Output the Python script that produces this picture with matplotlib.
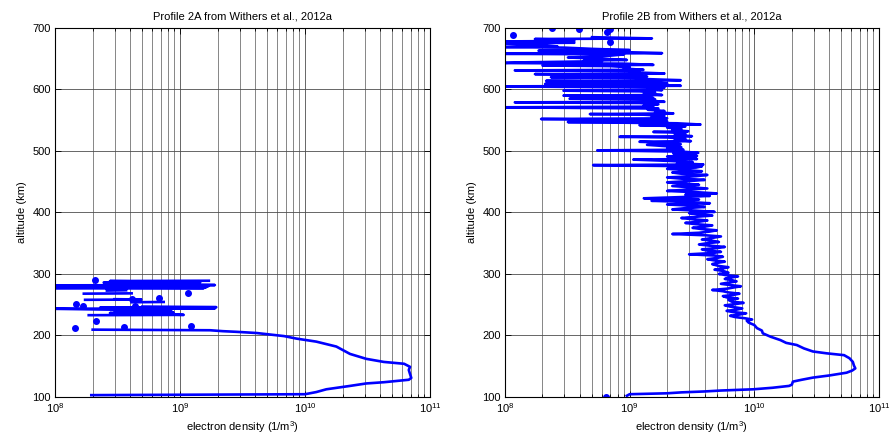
import numpy as np
import matplotlib
matplotlib.use("Agg")
import matplotlib.pyplot as plt
from matplotlib.ticker import LogLocator

# electron density values in units of 1e9 m^-3, altitudes in km
# NaN = gap in the measured profile
nan = np.nan

alt_2a = [103.0, 104.5, 108.0, 112.5, 118.0, 122.0, 124.0, 126.0, 128.0, 131.0,
          138.0, 144.0, 149.0, 154.0, 157.0, 162.0, 170.0, 182.0, 190.0, 195.0,
          199.0, 204.0, 206.0, 207.0, 208.5, 209.5, nan, 233.0, 233.5, 236.5,
          237.0, 240.0, 240.5, 243.5, 244.0, 245.5, 246.0, 247.0, nan, 254.0,
          254.5, nan, 258.0, 258.5, 259.0, nan, 268.0, 268.5, nan, 273.0,
          273.5, nan, 276.5, 277.0, 278.0, 278.5, 280.0, 280.5, 281.5, 282.0,
          283.0, 284.0, 286.0, 286.5, 288.5, 289.0]
ne_2a = [0.195, 10.0, 12.3, 14.8, 22.9, 30.9, 42.7, 53.7, 67.6, 70.8,
         69.0, 67.6, 69.2, 62.0, 42.7, 30.9, 22.9, 17.8, 12.3, 8.5,
         6.8, 4.1, 2.8, 2.2, 1.74, 0.2, nan, 0.186, 1.07, 0.275,
         0.89, 0.3, 0.85, 0.09, 1.9, 0.23, 1.95, 0.5, nan, 0.41,
         0.74, nan, 0.174, 0.49, 0.3, nan, 0.17, 0.41, nan, 0.26,
         0.37, nan, 0.09, 1.55, 0.09, 1.62, 0.09, 1.7, 0.1, 1.9,
         0.5, 1.4, 0.245, 1.45, 0.275, 1.7]

# isolated samples drawn as dots
dot_alt_2a = [290, 251, 248, 212, 224, 214, 259, 248, 261, 269, 215]
dot_ne_2a = [0.21, 0.148, 0.166, 0.145, 0.214, 0.355, 0.41, 0.44, 0.68, 1.15, 1.23]

alt_2b = [102.0, 104.5, 106.0, 107.5, 109.0, 110.5, 112.5, 115.0, 118.0, 120.0,
          125.0, 128.0, 131.5, 135.0, 139.5, 143.0, 146.5, 151.0, 157.0, 163.0,
          168.0, 171.0, 174.0, 179.0, 184.5, 188.0, 192.5, 198.0, 203.5, 208.0,
          212.0, 217.0, 221.0, 224.0,
          226, 228, 230, 232, 234, 236, 238, 240, 242, 244,
          247, 249, 251, 253, 255, 258, 260, 262, 264, 266,
          268, 270, 272, 274, 276, 278, 280, 282, 284, 286,
          288, 290, 292, 294, 296, 298, 300, 302, 305, 307,
          309, 311, 313, 316, 318, 320, 322, 324, 326, 328,
          330, 332, 334, 336, 338, 340, 342, 344, 346, 348,
          350, 352, 354, 356, 358, 361, 363, 365, 367, 369,
          371, 373, 375, 377, 379, 381, 383, 385, 387, 389,
          391, 393, 395, 397, 399, 401, 403, 405, 407, 409,
          411, 413, 415, 417, 419, 421, 423, 425, 427, 429,
          431, 433, 435, 437, 439, 441, 443, 445, 447, 449,
          451, 453, 455, 457, 459, 461, 463, 465, 467, 469,
          471, 473, 475,
          477, 478, 480, 482, 484, 486, 487, 489, 491, 492,
          494, 496, 497, 499, 501, 502, 504, 506, 508, 510,
          511, 513, 515, 516, 518, 520, 522, 523, 524, 526,
          528, 530, 531, 532, 534, 536, 538, 540, 542, 543,
          545, 547, 548, 550, 552, 553, 555, 557, 559, 560,
          561, 563, 565, 567, 569, 571, 572, 574, 576, 578,
          579, 580, 582, 584, 585, 586, 588, 590, 591, 593,
          595, 597, 598, 599, 601, 603, 605, 606, 608, 609,
          610, 612, 614, 615, 617, 619, 620, 621, 623, 625,
          626, 628, 630, 631, 632, 634, 636, 638, 639, 640,
          642, 643, 644, 646, 647, 648, 650, 652, 653, 655,
          657, 658, 659, 661, 663, 664, 666, 668, 669, 670,
          672, 674, 675, 676, 677, 678, 679, 681, 682, 683,
          685]
ne_2b = [0.95, 1.0, 2.0, 2.6, 4.0, 5.4, 9.8, 14.0, 19.0, 20.0,
         20.4, 24.0, 29.5, 40.0, 55.0, 61.0, 64.6, 63.0, 61.7, 58.0,
         52.5, 38.0, 29.5, 25.0, 21.9, 18.0, 16.2, 13.5, 11.7, 11.5,
         10.5, 10.0, 9.0, 8.7,
         9.6, 8.4, 7.0, 6.4, 7.6, 8.6, 6.8, 6.0, 7.2, 8.0,
         6.4, 5.8, 7.0, 8.2, 6.6, 6.2, 7.4, 6.0, 5.6, 6.8,
         7.6, 6.2, 5.6, 4.6, 6.0, 6.8, 7.8, 6.4, 5.4, 6.2,
         7.2, 6.6, 5.8, 6.4, 7.4, 6.0, 5.2, 6.2, 5.6, 4.8,
         5.6, 6.2, 5.2, 4.6, 5.0, 5.8, 4.8, 4.2, 5.0, 5.6,
         4.8, 3.0, 4.6, 5.4, 4.2, 3.8, 5.0, 5.8, 4.4, 3.6,
         4.2, 5.2, 4.6, 3.8, 4.4, 5.4, 4.0, 2.2, 3.6, 4.4,
         5.0, 3.8, 3.2, 4.0, 4.6, 3.4, 2.8, 3.6, 4.2, 3.2,
         2.6, 3.4, 4.6, 3.6, 3.0, 4.8, 3.4, 2.2, 2.8, 4.0,
         3.2, 2.0, 4.4, 3.0, 1.5, 3.6, 1.3, 2.6, 4.4, 2.8,
         5.0, 3.4, 2.0, 2.8, 4.2, 3.0, 2.2, 3.6, 2.6, 2.0,
         3.0, 4.0, 2.6, 2.0, 3.4, 4.2, 2.6, 2.2, 3.8, 2.8,
         2.0, 3.4, 3.8,
         0.51, 3.9, 2.4, 3.2, 2.0, 1.07, 3.47, 2.6, 2.0, 3.47,
         2.6, 2.24, 3.55, 2.6, 0.55, 2.7, 2.0, 2.6, 1.9, 1.38,
         2.57, 2.1, 1.2, 3.1, 2.3, 2.8, 2.0, 0.83, 3.16, 2.3,
         2.8, 2.2, 1.55, 2.95, 2.2, 2.6, 2.0, 2.8, 1.2, 3.7,
         2.4, 0.32, 2.0, 1.6, 0.195, 2.0, 1.5, 1.9, 1.3, 0.48,
         2.24, 1.6, 1.9, 1.4, 1.7, 0.09, 1.55, 1.3, 1.7, 1.2,
         0.12, 1.9, 1.4, 1.6, 0.33, 1.55, 1.2, 0.295, 1.82, 1.3,
         1.6, 1.2, 0.295, 1.82, 1.4, 1.9, 0.09, 2.57, 1.5, 0.21,
         2.0, 1.4, 0.214, 2.57, 1.3, 1.1, 0.234, 1.38, 1.0, 0.174,
         1.9, 1.0, 1.2, 0.12, 1.29, 0.9, 1.0, 0.7, 0.2, 1.55,
         0.9, 0.09, 0.13, 0.6, 0.43, 0.95, 0.6, 0.32, 0.48, 0.7,
         0.9, 0.09, 1.82, 0.8, 0.186, 1.0, 0.5, 0.3, 0.09, 0.263,
         0.2, 0.12, 0.09, 0.36, 0.2, 0.09, 0.36, 0.3, 0.174, 1.51,
         0.5]

dot_alt_2b = [100, 689, 699.5, 698, 694, 699, 677]
dot_ne_2b = [0.65, 0.115, 0.237, 0.39, 0.66, 0.69, 0.69]

alt_ticks = [100, 200, 300, 400, 500, 600, 700]

plt.rcParams['font.family'] = ['Liberation Sans', 'DejaVu Sans']
plt.rcParams['mathtext.fontset'] = 'custom'
plt.rcParams['mathtext.rm'] = 'Liberation Sans'
plt.rcParams['mathtext.it'] = 'Liberation Sans:italic'

fig = plt.figure(figsize=(8.92, 4.46), dpi=100)
ax1 = fig.add_axes([0.0617, 0.1099, 0.4204, 0.8274])
ax2 = fig.add_axes([0.5661, 0.1099, 0.4193, 0.8274])

panels = [
    (ax1, alt_2a, ne_2a, dot_alt_2a, dot_ne_2a, "Profile 2A from Withers et al., 2012a"),
    (ax2, alt_2b, ne_2b, dot_alt_2b, dot_ne_2b, "Profile 2B from Withers et al., 2012a"),
]

for ax, alt, ne, dalt, dne, title in panels:
    ax.plot(np.array(ne) * 1e9, alt, '-', color='#0000ff', lw=1.9)
    ax.plot(np.array(dne) * 1e9, dalt, 'o', color='#0000ff', ms=4.0, mec='#0000ff')

    ax.set_xscale('log')
    ax.set_xlim(1e8, 1e11)
    ax.set_ylim(100, 700)
    ax.set_yticks(alt_ticks)
    ax.xaxis.set_major_locator(LogLocator(base=10, numticks=10))
    ax.xaxis.set_minor_locator(LogLocator(base=10, subs=(2, 3, 4, 5, 6, 7, 8, 9), numticks=10))

    ax.set_axisbelow(True)
    ax.grid(True, which='major', color='0.3', lw=0.6)
    ax.grid(True, which='minor', axis='x', color='0.45', lw=0.6)
    ax.tick_params(which='major', direction='in', top=True, right=True,
                   labelsize=8, length=4, width=0.6, pad=3)
    ax.tick_params(which='minor', direction='in', top=True, right=True,
                   length=2, width=0.6)
    for sp in ax.spines.values():
        sp.set_linewidth(0.8)

    ax.set_title(title, fontsize=8, pad=6)
    ax.set_xlabel("electron density (1/m$^3$)", fontsize=8, labelpad=3)
    ax.set_ylabel("altitude (km)", fontsize=8, labelpad=4)

fig.savefig("out.png", dpi=100)
